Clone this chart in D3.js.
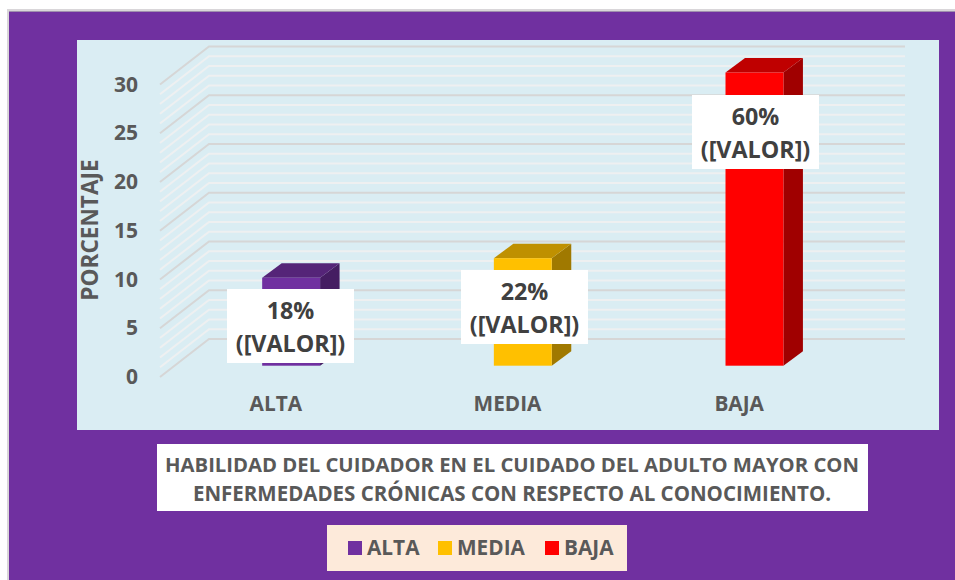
<!DOCTYPE html>
<html>
<head>
<meta charset="utf-8">
<script src="https://cdn.jsdelivr.net/npm/d3@7"></script>
<style>
  html, body { margin: 0; padding: 0; background: #fff; overflow: hidden; }
  text { font-family: "Open Sans", sans-serif; font-weight: 700; }
</style>
</head>
<body>
<div id="chart"></div>
<script>
const categories = ["ALTA", "MEDIA", "BAJA"];
const values = [9, 11, 30];
const percents = ["18%", "22%", "60%"];
const valueTicks = [0, 5, 10, 15, 20, 25, 30];
const minorTicks = [1,2,3,4,6,7,8,9,11,12,13,14,16,17,18,19,21,22,23,24,26,27,28,29];

const colors = {ALTA: "#7030a0", MEDIA: "#ffc000", BAJA: "#ff0000"};
const tops = {ALTA: "#552478", MEDIA: "#bf9000", BAJA: "#bf0000"};
const sides = {ALTA: "#451d62", MEDIA: "#a07900", BAJA: "#a00000"};

const textColor = "#595959";
const depthX = 49, depthY = 38;       // floor depth of the 3d box
const barDepthX = 19.5, barDepthY = 14.5;

const svg = d3.select("#chart").append("svg")
    .attr("width", 955)
    .attr("height", 580);

// frame and panels
svg.append("rect").attr("x", 7).attr("y", 9).attr("width", 948).attr("height", 571)
    .attr("fill", "#d9d6d9");
svg.append("rect").attr("x", 9).attr("y", 11).attr("width", 946).attr("height", 569)
    .attr("fill", "#7030a0");
svg.append("rect").attr("x", 9).attr("y", 11).attr("width", 946).attr("height", 1)
    .attr("fill", "#a08fae");
svg.append("rect").attr("x", 77).attr("y", 40).attr("width", 862).attr("height", 390)
    .attr("fill", "#daedf3");

const x = d3.scaleBand().domain(categories).range([160, 855]);
const y = d3.scaleLinear().domain([0, 30]).range([377, 84.5]);
// bars stand partway into the floor, so they get their own baseline
const yBar = d3.scaleLinear().domain([0, 30]).range([365.7, 72.5]);

function gridLine(v) {
    const yy = y(v);
    return [[160, yy], [160 + depthX, yy - depthY], [905, yy - depthY]];
}
const line = d3.line();

svg.append("g").selectAll("path").data(minorTicks).join("path")
    .attr("d", d => line(gridLine(d)))
    .attr("fill", "none")
    .attr("stroke", "#eef0f1")
    .attr("stroke-width", 2);

svg.append("g").selectAll("path").data(valueTicks).join("path")
    .attr("d", d => line(gridLine(d)))
    .attr("fill", "none")
    .attr("stroke", "#d6d6d6")
    .attr("stroke-width", 2);

// axes
const yAxis = svg.append("g")
    .attr("transform", "translate(138,0)")
    .call(d3.axisLeft(y).tickValues(valueTicks).tickSize(0).tickPadding(0));
yAxis.select(".domain").remove();
yAxis.selectAll("text")
    .attr("fill", textColor)
    .style("font-size", "21px");

const xAxis = svg.append("g")
    .attr("transform", "translate(0,393)")
    .call(d3.axisBottom(x).tickSize(0).tickPadding(3));
xAxis.select(".domain").remove();
xAxis.selectAll("text")
    .attr("fill", textColor)
    .style("font-size", "20.8px");

svg.append("text")
    .attr("transform", "translate(97.5,230) rotate(-90)")
    .attr("text-anchor", "middle")
    .attr("fill", textColor)
    .style("font-size", "22.6px")
    .text("PORCENTAJE");

// bars
const barWidth = x.step() * 0.25;
const barX = d => x(d) + x.bandwidth() / 2 + 15.3 - barWidth / 2;

const bars = svg.append("g").selectAll("g").data(categories).join("g");

bars.append("path")
    .attr("d", (d, i) => {
        const x1 = barX(d) + barWidth, t = yBar(values[i]), b = yBar(0);
        return line([[x1, t], [x1 + barDepthX, t - barDepthY], [x1 + barDepthX, b - barDepthY], [x1, b]]) + "Z";
    })
    .attr("fill", d => sides[d]);

bars.append("path")
    .attr("d", (d, i) => {
        const x0 = barX(d), x1 = x0 + barWidth, t = yBar(values[i]);
        return line([[x0, t], [x0 + barDepthX, t - barDepthY], [x1 + barDepthX, t - barDepthY], [x1, t]]) + "Z";
    })
    .attr("fill", d => tops[d]);

bars.append("rect")
    .attr("x", d => barX(d))
    .attr("y", (d, i) => yBar(values[i]))
    .attr("width", barWidth)
    .attr("height", (d, i) => yBar(0) - yBar(values[i]))
    .attr("fill", d => colors[d]);

// data labels
const labelW = 127, labelH = 74;
const labelLeft = [227, 461, 692];
const labelTop = [289, 270, 95];
const labels = svg.append("g").selectAll("g").data(categories).join("g")
    .attr("transform", (d, i) => "translate(" + labelLeft[i] + "," + labelTop[i] + ")");

labels.append("rect")
    .attr("width", labelW)
    .attr("height", labelH)
    .attr("fill", "#fff");
labels.append("text")
    .attr("x", labelW / 2)
    .attr("y", 30)
    .attr("text-anchor", "middle")
    .attr("fill", "#404040")
    .style("font-size", "23.3px")
    .text((d, i) => percents[i]);
labels.append("text")
    .attr("x", labelW / 2)
    .attr("y", 63)
    .attr("text-anchor", "middle")
    .attr("fill", "#404040")
    .style("font-size", "23.3px")
    .text("([VALOR])");

// title
svg.append("rect").attr("x", 157).attr("y", 444).attr("width", 711).attr("height", 67)
    .attr("fill", "#fff");
svg.append("text")
    .attr("x", 512).attr("y", 471.5)
    .attr("text-anchor", "middle")
    .attr("fill", textColor)
    .style("font-size", "20.3px")
    .text("HABILIDAD DEL CUIDADOR EN EL CUIDADO DEL ADULTO MAYOR CON");
svg.append("text")
    .attr("x", 512).attr("y", 500.5)
    .attr("text-anchor", "middle")
    .attr("fill", textColor)
    .style("font-size", "20.5px")
    .text("ENFERMEDADES CRÓNICAS CON RESPECTO AL CONOCIMIENTO.");

// legend
svg.append("rect").attr("x", 327).attr("y", 525).attr("width", 300).attr("height", 46)
    .attr("fill", "#fdeada");
const legendX = [348, 438, 545];
const legend = svg.append("g").selectAll("g").data(categories).join("g")
    .attr("transform", (d, i) => "translate(" + legendX[i] + ",541)");
legend.append("rect")
    .attr("width", 14).attr("height", 14)
    .attr("fill", d => colors[d]);
legend.append("text")
    .attr("x", 19).attr("y", 14)
    .attr("fill", textColor)
    .style("font-size", "20.8px")
    .text(d => d);
</script>
</body>
</html>
